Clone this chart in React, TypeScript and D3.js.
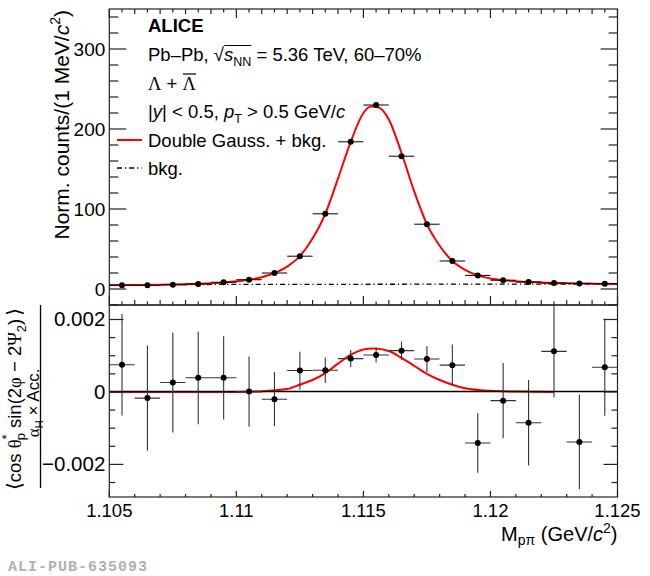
import { useEffect, useRef } from 'react';
import * as d3 from 'd3';

// invariant-mass bins (GeV/c^2), width 1 MeV
const binCenters = [
  1.1055, 1.1065, 1.1075, 1.1085, 1.1095, 1.1105, 1.1115, 1.1125, 1.1135, 1.1145,
  1.1155, 1.1165, 1.1175, 1.1185, 1.1195, 1.1205, 1.1215, 1.1225, 1.1235, 1.1245
];
const binHalfWidth = 0.0005;

// top panel: normalised counts
const counts = [4.6, 4.6, 5.4, 6.3, 8.4, 11.6, 20, 41, 94, 184, 230, 166, 81, 35, 17, 11, 8.8, 7.5, 7, 6.6];

// fit curve
const fitMass = [
  1.105, 1.106, 1.107, 1.108, 1.109, 1.1095, 1.11, 1.1105, 1.111, 1.1115, 1.112, 1.1125,
  1.113, 1.1135, 1.114, 1.1145, 1.115, 1.1153, 1.1156, 1.116, 1.1165, 1.117, 1.1175,
  1.118, 1.1185, 1.119, 1.1195, 1.12, 1.1205, 1.121, 1.1215, 1.122, 1.123, 1.124, 1.125
];
const fitCounts = [
  5.0, 5.1, 5.4, 6.0, 7.2, 8.2, 9.6, 11.6, 14.8, 20, 28, 41,
  63, 94, 138, 184, 220, 228, 227, 212, 170, 122, 81,
  54, 35, 24, 17, 13.2, 11, 9.6, 8.7, 8.0, 7.2, 6.7, 6.4
];
const bkgMass = [1.105, 1.125];
const bkgCounts = [5.5, 6.3];

// bottom panel: polarisation observable
const polValues = [
  0.00075, -0.00017, 0.00026, 0.00039, 0.00039, 0.00001, -0.0002, 0.00059, 0.0006, 0.00092,
  0.00102, 0.00114, 0.00091, 0.00074, -0.00141, -0.00024, -0.00085, 0.00112, -0.00138, 0.00068
];
const polErrors = [
  0.0014, 0.00145, 0.00138, 0.00128, 0.00115, 0.00097, 0.00075, 0.00052, 0.00035, 0.00024,
  0.00021, 0.00025, 0.00036, 0.00057, 0.00082, 0.00104, 0.00118, 0.00127, 0.0013, 0.00134
];
const polFitMass = [
  1.105, 1.11, 1.111, 1.112, 1.1125, 1.113, 1.1135, 1.114, 1.1145, 1.115, 1.1154,
  1.116, 1.1165, 1.117, 1.1175, 1.118, 1.1185, 1.119, 1.12, 1.121, 1.1225
];
const polFitValues = [
  0, 0, 0.00002, 0.00008, 0.0002, 0.00033, 0.00052, 0.00078, 0.00102, 0.00117, 0.0012,
  0.00113, 0.00094, 0.00072, 0.0005, 0.00033, 0.0002, 0.0001, 0.00003, 0.00001, 0
];

const massTicks = [1.105, 1.11, 1.115, 1.12, 1.125];
const massTickLabels = ['1.105', '1.11', '1.115', '1.12', '1.125'];
const countTicks = [0, 100, 200, 300];
const polTicks = [0.002, 0, -0.002];
const polTickLabels = ['0.002', '0', '\u22120.002'];

const SANS = 'Liberation Sans, Arial, Helvetica, sans-serif';
const SERIF = 'Liberation Serif, Times New Roman, serif';

type Part = {
  t: string; italic?: boolean; serif?: boolean; font?: string;
  size?: number; dy?: number; dx?: number; cls?: string;
};

function richText(
  parent: d3.Selection<any, unknown, null, undefined>,
  x: number,
  y: number,
  size: number,
  parts: Part[],
  anchor = 'start',
  transform?: string
) {
  const t = parent.append('text')
    .attr('x', x)
    .attr('y', y)
    .attr('font-family', SANS)
    .attr('font-size', size)
    .attr('text-anchor', anchor)
    .attr('fill', '#000');
  if (transform) t.attr('transform', transform);
  parts.forEach(p => {
    const s = t.append('tspan').text(p.t);
    if (p.italic) s.attr('font-style', 'italic');
    if (p.serif) s.attr('font-family', SERIF);
    if (p.font) s.attr('font-family', p.font);
    if (p.size) s.attr('font-size', p.size);
    if (p.dy) s.attr('dy', p.dy);
    if (p.dx) s.attr('dx', p.dx);
    if (p.cls) s.attr('class', p.cls);
  });
  return t;
}

export default function App() {
  const svgRef = useRef<SVGSVGElement>(null);

  useEffect(() => {
    if (!svgRef.current) return;
    const svg = d3.select(svgRef.current);
    svg.selectAll('*').remove();

    const left = 109.3, right = 617.5;
    const topY0 = 9, topY1 = 305, botY0 = 305, botY1 = 497;

    const x = d3.scaleLinear().domain([1.105, 1.125]).range([left, right]);
    const yTop = d3.scaleLinear().domain([-20, 350]).range([topY1, topY0]);
    const yBot = d3.scaleLinear().domain([-0.0029, 0.0024]).range([botY1, botY0]);

    svg.append('rect').attr('width', 650).attr('height', 576).attr('fill', '#fff');

    const defs = svg.append('defs');
    defs.append('clipPath').attr('id', 'clipTop')
      .append('rect').attr('x', left).attr('y', topY0).attr('width', right - left).attr('height', topY1 - topY0);
    defs.append('clipPath').attr('id', 'clipBot')
      .append('rect').attr('x', left).attr('y', botY0).attr('width', right - left).attr('height', botY1 - botY0);

    const axisColor = '#222';

    // ---------- top panel ----------
    const gTop = svg.append('g').attr('clip-path', 'url(#clipTop)');

    const bkgLine = d3.line<number>().x((_, i) => x(bkgMass[i])).y(d => yTop(d));
    gTop.append('path')
      .attr('d', bkgLine(bkgCounts))
      .attr('fill', 'none')
      .attr('stroke', '#000')
      .attr('stroke-width', 1.3)
      .attr('stroke-dasharray', '5 3 1.2 3');

    const fitLine = d3.line<number>().x((_, i) => x(fitMass[i])).y(d => yTop(d)).curve(d3.curveMonotoneX);
    gTop.append('path')
      .attr('d', fitLine(fitCounts))
      .attr('fill', 'none')
      .attr('stroke', '#ff0000')
      .attr('stroke-width', 2);

    gTop.selectAll('line.xerr')
      .data(counts)
      .enter()
      .append('line')
      .attr('x1', (_, i) => x(binCenters[i] - binHalfWidth))
      .attr('x2', (_, i) => x(binCenters[i] + binHalfWidth))
      .attr('y1', d => yTop(d))
      .attr('y2', d => yTop(d))
      .attr('stroke', '#000')
      .attr('stroke-width', 1);

    gTop.selectAll('circle')
      .data(counts)
      .enter()
      .append('circle')
      .attr('cx', (_, i) => x(binCenters[i]))
      .attr('cy', d => yTop(d))
      .attr('r', 3)
      .attr('fill', '#000');

    // ---------- bottom panel ----------
    const gBot = svg.append('g').attr('clip-path', 'url(#clipBot)');

    const polFit = d3.line<number>().x((_, i) => x(polFitMass[i])).y(d => yBot(d)).curve(d3.curveMonotoneX);
    gBot.append('path')
      .attr('d', polFit(polFitValues))
      .attr('fill', 'none')
      .attr('stroke', '#ff0000')
      .attr('stroke-width', 2);

    gBot.append('line')
      .attr('x1', left).attr('x2', right)
      .attr('y1', yBot(0) - 0.5).attr('y2', yBot(0) - 0.5)
      .attr('stroke', '#000')
      .attr('stroke-width', 1.5);

    gBot.selectAll('line.yerr')
      .data(polValues)
      .enter()
      .append('line')
      .attr('x1', (_, i) => x(binCenters[i]))
      .attr('x2', (_, i) => x(binCenters[i]))
      .attr('y1', (d, i) => yBot(d - polErrors[i]))
      .attr('y2', (d, i) => yBot(d + polErrors[i]))
      .attr('stroke', '#333')
      .attr('stroke-width', 1.1);

    gBot.selectAll('line.xerr')
      .data(polValues)
      .enter()
      .append('line')
      .attr('x1', (_, i) => x(binCenters[i] - binHalfWidth))
      .attr('x2', (_, i) => x(binCenters[i] + binHalfWidth))
      .attr('y1', d => yBot(d))
      .attr('y2', d => yBot(d))
      .attr('stroke', '#333')
      .attr('stroke-width', 1.1);

    gBot.selectAll('circle')
      .data(polValues)
      .enter()
      .append('circle')
      .attr('cx', (_, i) => x(binCenters[i]))
      .attr('cy', d => yBot(d))
      .attr('r', 3)
      .attr('fill', '#000');

    // ---------- frames and ticks ----------
    const axes = svg.append('g').attr('stroke', axisColor).attr('stroke-width', 1.2);
    const tick = (x1: number, y1: number, x2: number, y2: number) =>
      axes.append('line').attr('x1', x1).attr('y1', y1).attr('x2', x2).attr('y2', y2);

    // top panel x ticks (top and bottom edges)
    d3.range(0, 41).forEach(k => {
      const v = 1.105 + k * 0.0005;
      const len = k % 10 === 0 ? 9 : k % 2 === 0 ? 5 : 3.5;
      tick(x(v), topY0, x(v), topY0 + len);
      tick(x(v), topY1, x(v), topY1 - len);
    });
    // top panel y ticks (both sides)
    d3.range(-20, 351, 20).forEach(v => {
      const len = v % 100 === 0 ? 17 : 9;
      tick(left, yTop(v), left + len, yTop(v));
      tick(right, yTop(v), right - len, yTop(v));
    });
    // bottom panel x ticks
    d3.range(0, 21).forEach(k => {
      const v = 1.105 + k * 0.001;
      const len = k % 5 === 0 ? 6 : 3;
      tick(x(v), botY1, x(v), botY1 - len);
    });
    // bottom panel y ticks (both sides)
    d3.range(-5, 5).forEach(k => {
      const v = k * 0.0005;
      const len = k % 4 === 0 ? 14 : 6;
      tick(left, yBot(v), left + len, yBot(v));
      tick(right, yBot(v), right - len, yBot(v));
    });

    axes.append('rect')
      .attr('x', left).attr('y', topY0).attr('width', right - left).attr('height', topY1 - topY0)
      .attr('fill', 'none');
    axes.append('rect')
      .attr('x', left).attr('y', botY0).attr('width', right - left).attr('height', botY1 - botY0)
      .attr('fill', 'none');

    // ---------- tick labels ----------
    const labels = svg.append('g').attr('font-family', SANS).attr('fill', '#000');
    countTicks.forEach(v => {
      labels.append('text')
        .attr('x', left - 4).attr('y', yTop(v) + 6.5)
        .attr('text-anchor', 'end')
        .attr('font-size', 19)
        .text(String(v));
    });
    polTicks.forEach((v, i) => {
      labels.append('text')
        .attr('x', left - 4).attr('y', yBot(v) + 7)
        .attr('text-anchor', 'end')
        .attr('font-size', 20.5)
        .text(polTickLabels[i]);
    });
    massTicks.forEach((v, i) => {
      labels.append('text')
        .attr('x', x(v)).attr('y', 517)
        .attr('text-anchor', 'middle')
        .attr('font-size', 18.5)
        .text(massTickLabels[i]);
    });

    // ---------- axis titles ----------
    richText(svg, right, 541, 20, [
      { t: 'M' },
      { t: 'p\u03c0', size: 14, dy: 4 },
      { t: ' (GeV/', dy: -4 },
      { t: 'c', italic: true },
      { t: '2', size: 14, dy: -8 },
      { t: ')', dy: 8 }
    ], 'end');

    richText(svg, 0, 0, 21, [
      { t: 'Norm. counts/(1 MeV/' },
      { t: 'c', italic: true },
      { t: '2', size: 14, dy: -9 },
      { t: ')', dy: 9 }
    ], 'end', 'translate(69,10) rotate(-90)');

    // bottom y title: fraction
    const BRACKET = 'DejaVu Sans, sans-serif';
    richText(svg, 0, 0, 18.5, [
      { t: '\u27e8', size: 20, font: BRACKET },
      { t: 'cos ' },
      { t: '\u03b8', serif: true },
      { t: '*', size: 13, dy: -10 },
      { t: 'p', size: 13, dy: 14, dx: -6 },
      { t: ' sin(2', dy: -4 },
      { t: '\u03c6', serif: true },
      { t: ' \u2212 2' },
      { t: '\u03a8', serif: true },
      { t: '2', size: 13, dy: 5 },
      { t: ')', dy: -5 },
      { t: '\u27e9', size: 20, dx: 3, font: BRACKET }
    ], 'middle', 'translate(21,399) rotate(-90)');

    richText(svg, 0, 0, 17, [
      { t: '\u03b1', serif: true },
      { t: 'H', size: 11.5, dy: 4 },
      { t: ' \u00d7 Acc.', dy: -4 }
    ], 'middle', 'translate(38.5,403) rotate(-90)');

    svg.append('line')
      .attr('x1', 40.5).attr('x2', 40.5)
      .attr('y1', 305).attr('y2', 488)
      .attr('stroke', '#000')
      .attr('stroke-width', 1.3);

    // ---------- labels in the top panel ----------
    const tx = 148;
    const fs = 18.5;
    svg.append('text')
      .attr('x', tx).attr('y', 32)
      .attr('font-family', SANS).attr('font-size', fs).attr('font-weight', 'bold')
      .text('ALICE');

    const l2 = richText(svg, tx, 61, fs, [
      { t: 'Pb\u2013Pb, ' },
      { t: '\u221a', cls: 'sqrt' },
      { t: 's', italic: true, cls: 'rad' },
      { t: 'NN', size: 12.5, dy: 5, cls: 'rad2' },
      { t: ' = 5.36 TeV, 60\u201370%', dy: -5 }
    ]);
    const sq = (l2.select('.sqrt').node() as SVGGraphicsElement).getBBox();
    const r2 = (l2.select('.rad2').node() as SVGGraphicsElement).getBBox();
    svg.append('line')
      .attr('x1', sq.x + sq.width - 0.5).attr('x2', r2.x + r2.width)
      .attr('y1', sq.y + 1.5).attr('y2', sq.y + 1.5)
      .attr('stroke', '#000').attr('stroke-width', 1);

    const l3 = richText(svg, tx, 90, fs, [
      { t: '\u039b', serif: true },
      { t: ' + ' },
      { t: '\u039b', serif: true, cls: 'bar' }
    ]);
    const lb = (l3.select('.bar').node() as SVGGraphicsElement).getBBox();
    svg.append('line')
      .attr('x1', lb.x + 0.5).attr('x2', lb.x + lb.width - 0.5)
      .attr('y1', 74).attr('y2', 74)
      .attr('stroke', '#000').attr('stroke-width', 1.2);

    richText(svg, tx, 118, fs, [
      { t: '|' },
      { t: 'y', italic: true },
      { t: '| < 0.5, ' },
      { t: 'p', italic: true },
      { t: 'T', size: 12.5, dy: 5 },
      { t: ' > 0.5 GeV/', dy: -5 },
      { t: 'c', italic: true }
    ]);

    // legend
    svg.append('line')
      .attr('x1', 117).attr('x2', 142).attr('y1', 140).attr('y2', 140)
      .attr('stroke', '#ff0000').attr('stroke-width', 2);
    svg.append('text')
      .attr('x', tx).attr('y', 146.5)
      .attr('font-family', SANS).attr('font-size', fs)
      .text('Double Gauss. + bkg.');
    svg.append('line')
      .attr('x1', 117).attr('x2', 142).attr('y1', 168).attr('y2', 168)
      .attr('stroke', '#000').attr('stroke-width', 1.3)
      .attr('stroke-dasharray', '5 3 1.2 3');
    svg.append('text')
      .attr('x', tx).attr('y', 174.5)
      .attr('font-family', SANS).attr('font-size', fs)
      .text('bkg.');

    // publication tag
    svg.append('text')
      .attr('x', 8).attr('y', 571)
      .attr('font-family', 'Liberation Mono, DejaVu Sans Mono, monospace')
      .attr('font-size', 15).attr('font-weight', 'bold')
      .attr('letter-spacing', 1)
      .attr('fill', '#b0b0b0')
      .text('ALI-PUB-635093');
  }, []);

  return (
    <svg
      ref={svgRef}
      width={650}
      height={576}
      style={{ position: 'absolute', left: 0, top: 0, display: 'block' }}
    />
  );
}
